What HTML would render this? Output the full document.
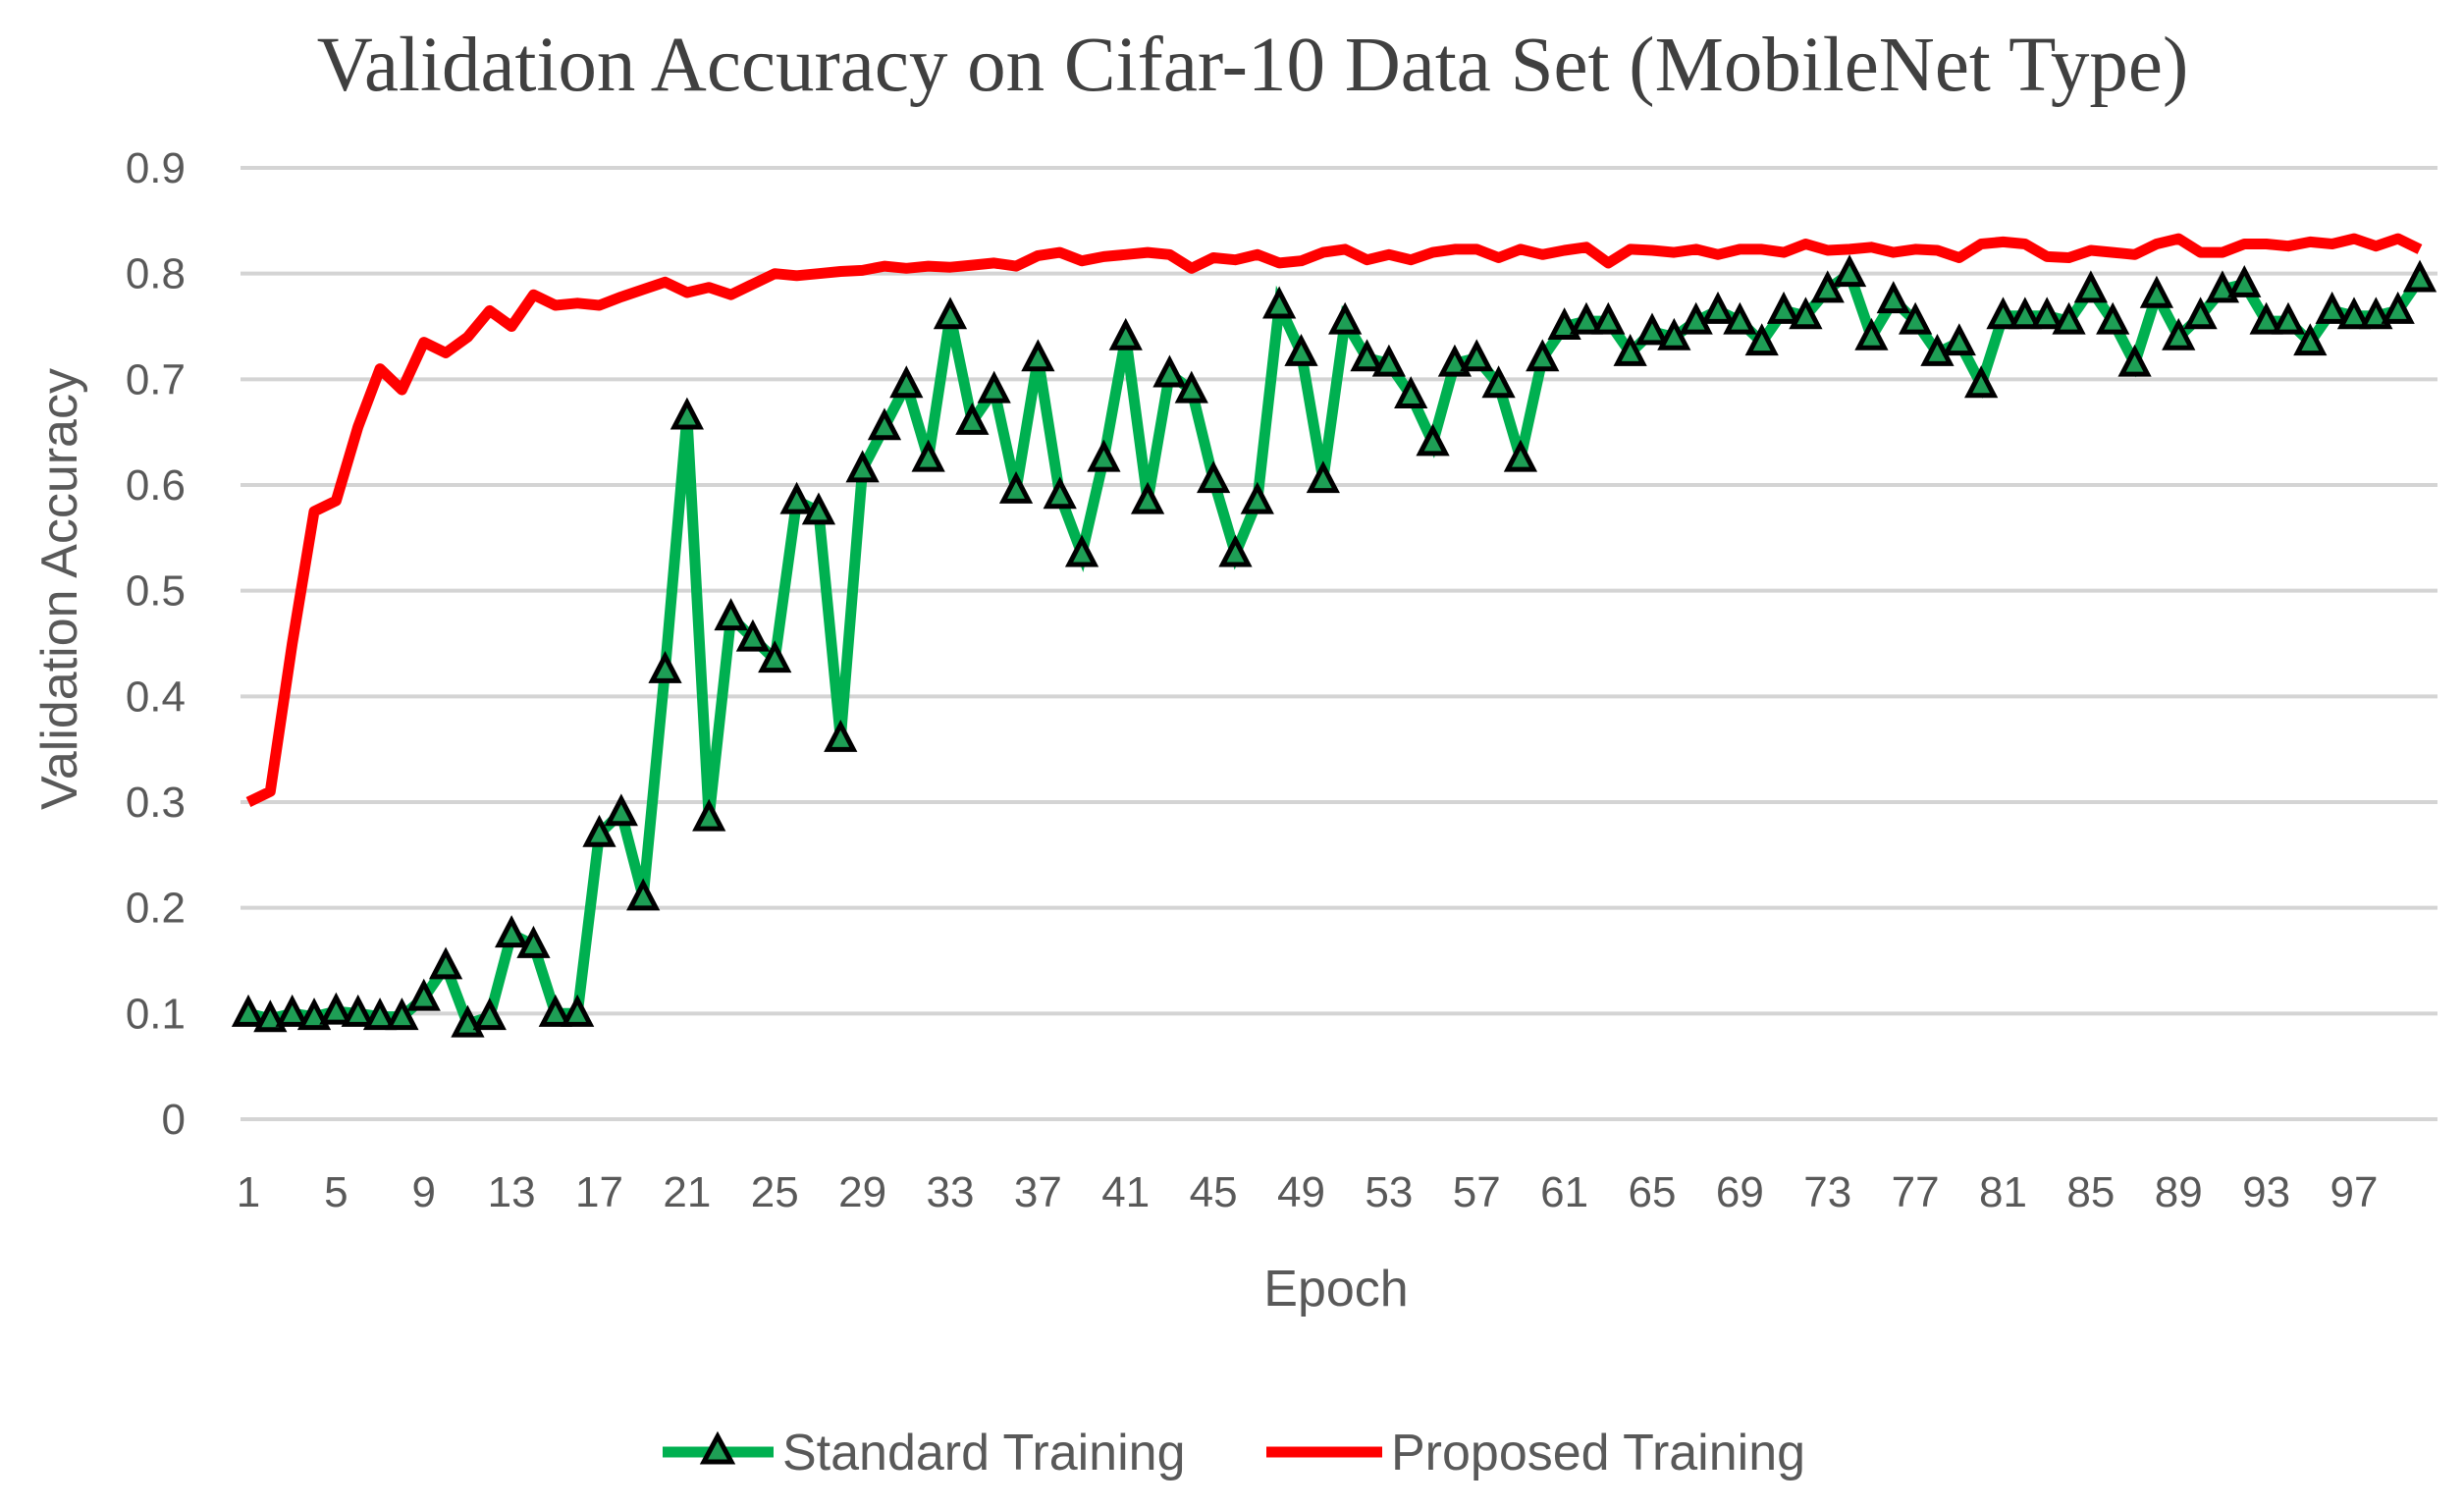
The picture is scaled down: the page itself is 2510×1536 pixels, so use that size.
<!DOCTYPE html>
<html><head><meta charset="utf-8">
<style>
html,body{margin:0;padding:0;background:#fff;}
svg{display:block;}
</style></head>
<body>
<svg id="chart" width="2510" height="1536" viewBox="0 0 2510 1536" xmlns="http://www.w3.org/2000/svg">
<rect width="2510" height="1536" fill="#fff"/>
<text x="1276" y="92" text-anchor="middle" font-family="Liberation Serif, serif" font-size="79" fill="#404040">Validation Accuracy on Cifar-10 Data Set (MobileNet Type)</text>
<g id="grid"></g>
<g id="yticks"></g>
<g id="xticks"></g>
<text x="1361" y="1330" text-anchor="middle" font-family="Liberation Sans, sans-serif" font-size="52" fill="#595959">Epoch</text>
<text transform="translate(78,600) rotate(-90)" text-anchor="middle" font-family="Liberation Sans, sans-serif" font-size="52" fill="#595959">Validation Accuracy</text>
<g id="series"></g>
<g>
  <g>
    <line x1="675" y1="1479" x2="788" y2="1479" stroke="#00b050" stroke-width="11"/>
    <polygon points="731,1463 745,1489 717,1489" fill="#1e9e55" stroke="#000" stroke-width="5"/>
    <text x="797" y="1497" font-family="Liberation Sans, sans-serif" font-size="52" fill="#595959">Standard Training</text>
  </g>
  <g>
    <line x1="1290" y1="1479" x2="1408" y2="1479" stroke="#ff0000" stroke-width="11"/>
    <text x="1417" y="1497" font-family="Liberation Sans, sans-serif" font-size="52" fill="#595959">Proposed Training</text>
  </g>
</g>
</svg>
<script>
const yTicks = [0,0.1,0.2,0.3,0.4,0.5,0.6,0.7,0.8,0.9];
const yTickLabels = ["0","0.1","0.2","0.3","0.4","0.5","0.6","0.7","0.8","0.9"];
const xTickEpochs = [1,5,9,13,17,21,25,29,33,37,41,45,49,53,57,61,65,69,73,77,81,85,89,93,97];
const standard = [0.10,0.095,0.10,0.097,0.102,0.10,0.097,0.097,0.115,0.145,0.09,0.097,0.175,0.165,0.10,0.10,0.27,0.29,0.21,0.425,0.665,0.285,0.475,0.455,0.435,0.585,0.575,0.36,0.615,0.655,0.695,0.625,0.76,0.66,0.69,0.595,0.72,0.59,0.535,0.625,0.74,0.585,0.705,0.69,0.605,0.535,0.585,0.77,0.725,0.605,0.755,0.72,0.715,0.685,0.64,0.715,0.72,0.695,0.625,0.72,0.75,0.755,0.755,0.725,0.745,0.74,0.755,0.765,0.755,0.735,0.765,0.76,0.785,0.80,0.74,0.775,0.755,0.725,0.735,0.695,0.76,0.76,0.76,0.755,0.785,0.755,0.715,0.78,0.74,0.76,0.785,0.79,0.755,0.755,0.735,0.765,0.76,0.76,0.765,0.795];
const proposed = [0.30,0.31,0.45,0.575,0.585,0.655,0.71,0.69,0.735,0.725,0.74,0.765,0.75,0.78,0.77,0.772,0.77,0.778,0.785,0.792,0.782,0.787,0.78,0.79,0.80,0.798,0.80,0.802,0.803,0.807,0.805,0.807,0.806,0.808,0.81,0.807,0.817,0.82,0.812,0.816,0.818,0.82,0.818,0.805,0.815,0.813,0.818,0.81,0.812,0.82,0.823,0.813,0.818,0.813,0.82,0.823,0.823,0.815,0.823,0.818,0.822,0.825,0.81,0.823,0.822,0.82,0.823,0.818,0.823,0.823,0.82,0.828,0.822,0.823,0.825,0.82,0.823,0.822,0.815,0.828,0.83,0.828,0.816,0.815,0.822,0.82,0.818,0.828,0.833,0.82,0.82,0.828,0.828,0.826,0.83,0.828,0.833,0.826,0.833,0.823];

const NS = "http://www.w3.org/2000/svg";
const X0 = 253, X97 = 2398, Y0 = 1140, Y9 = 171;
function xs(e){ return X0 + (e-1)*(X97-X0)/96; }
function ys(v){ return Y0 - v*(Y0-Y9)/0.9; }
function mk(tag, attrs, parent){ const el=document.createElementNS(NS,tag); for(const k in attrs) el.setAttribute(k,attrs[k]); parent.appendChild(el); return el; }

const grid=document.getElementById('grid'), yt=document.getElementById('yticks'), xt=document.getElementById('xticks'), ser=document.getElementById('series');
yTicks.forEach((v,i)=>{
  const l=mk('line',{x1:245,x2:2483,y1:ys(v),y2:ys(v),stroke:'#d4d4d4','stroke-width':4},grid);
  
  
  const t=mk('text',{x:189,y:ys(v)+15,'text-anchor':'end','font-family':'Liberation Sans, sans-serif','font-size':44,fill:'#595959'},yt);
  t.textContent=yTickLabels[i];
  
  
});
xTickEpochs.forEach(e=>{
  const t=mk('text',{x:xs(e),y:1229,'text-anchor':'middle','font-family':'Liberation Sans, sans-serif','font-size':44,fill:'#595959'},xt);
  t.textContent=String(e);
  
  
});
function pts(arr){ return arr.map((v,i)=>xs(i+1).toFixed(1)+','+ys(v).toFixed(1)).join(' '); }
const gl=mk('polyline',{points:pts(standard),fill:'none',stroke:'#00b050','stroke-width':11,'stroke-linejoin':'miter'},ser);


const rl=mk('polyline',{points:pts(proposed),fill:'none',stroke:'#ff0000','stroke-width':11,'stroke-linejoin':'round'},ser);


standard.forEach((v,i)=>{
  const x=xs(i+1), y=ys(v);
  const p=mk('polygon',{points:`${x},${y-14} ${x+13},${y+11} ${x-13},${y+11}`,fill:'#1e9e55',stroke:'#000','stroke-width':5},ser);
  
  
});
</script>
</body></html>
